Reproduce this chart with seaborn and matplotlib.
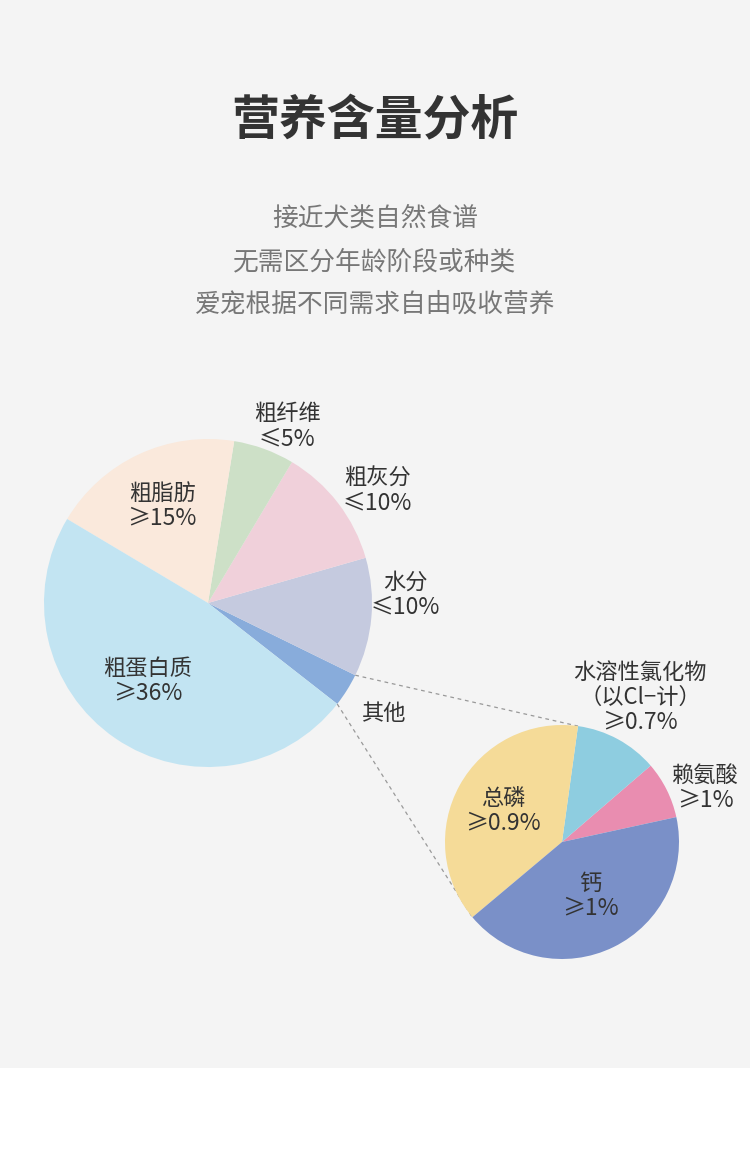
import numpy as np
import matplotlib
matplotlib.use("Agg")
import matplotlib.pyplot as plt
import seaborn as sns
from matplotlib.patches import Rectangle

# main composition (big pie), counter-clockwise starting at "其他"
main_names = ["其他", "水分", "粗灰分", "粗纤维", "粗脂肪", "粗蛋白质"]
main_claims = ["", "≤10%", "≤10%", "≤5%", "≥15%", "≥36%"]
main_values = [3.3, 11.7, 12.0, 6.0, 19.0, 48.0]
main_colors = ["#88acdb", "#c5cadf", "#f0d0da", "#cde0c7", "#fae9dc", "#c2e4f2"]

# breakdown of "其他" (small pie), counter-clockwise starting at 赖氨酸
sub_names = ["赖氨酸", "水溶性氯化物\n（以Cl−计）", "总磷", "钙"]
sub_claims = ["≥1%", "≥0.7%", "≥0.9%", "≥1%"]
sub_values = [7.9, 11.5, 38.3, 42.3]
sub_colors = ["#e98db0", "#8ecde0", "#f5db98", "#7a90c8"]

title = "营养含量分析"
subtitle = ["接近犬类自然食谱", "无需区分年龄阶段或种类", "爱宠根据不同需求自由吸收营养"]

sns.set_theme(style="white")
plt.rcParams["font.family"] = ["Noto Sans CJK SC", "DejaVu Sans"]

W, H = 750, 1156
fig = plt.figure(figsize=(7.5, 11.56), dpi=100, facecolor="white")
ax = fig.add_axes([0, 0, 1, 1])

# pixel helpers (image y downwards)
def py(y):
    return H - y

big_c, big_r = (208, py(603)), 164
small_c, small_r = (562, py(842)), 117

w_big, _ = ax.pie(main_values, colors=sns.color_palette(main_colors), startangle=-38,
                  counterclock=True, center=big_c, radius=big_r,
                  wedgeprops=dict(linewidth=0))
w_small, _ = ax.pie(sub_values, colors=sns.color_palette(sub_colors), startangle=12.3,
                    counterclock=True, center=small_c, radius=small_r,
                    wedgeprops=dict(linewidth=0))

ax.set_xlim(0, W)
ax.set_ylim(0, H)
ax.set_aspect("equal")
ax.axis("off")

ax.add_patch(Rectangle((0, py(1068)), W, 1068, facecolor="#f4f4f4", edgecolor="none", zorder=-5))

# dashed connectors from the "其他" wedge to the small pie
def edge(center, r, ang):
    a = np.deg2rad(ang)
    return center[0] + r * np.cos(a), center[1] + r * np.sin(a)

other = w_big[0]
phos = w_small[2]
for a_big, a_small in [(other.theta2, phos.theta1), (other.theta1, phos.theta2)]:
    x0, y0 = edge(big_c, big_r, a_big)
    x1, y1 = edge(small_c, small_r, a_small)
    ax.plot([x0, x1], [y0, y1], ls=(0, (3, 3)), color="#999999", lw=0.9, zorder=0)

# text
ax.text(375, py(121), title, ha="center", va="center", fontsize=34.5, fontweight="bold", color="#333333")
for i, s in enumerate(subtitle):
    ax.text(375, py(219 + i * 43), s, ha="center", va="center", fontsize=18.5, color="#777777")

# label anchor = centre of the value line (x, y in image pixels)
main_pos = [(383, 738), (405, 607), (377, 503), (287, 439), (162, 518), (148, 693)]
sub_pos = [(705, 800), (640, 722), (503, 823), (590, 908)]
for name, claim, (x, y) in zip(main_names + sub_names, main_claims + sub_claims, main_pos + sub_pos):
    n = name.count("\n") + 1
    ax.text(x, py(y - 12.5 - 12.5 * n), name, ha="center", va="center", fontsize=16,
            color="#333333", linespacing=1.1, multialignment="center")
    if claim:
        ax.text(x, py(y), claim, ha="center", va="center", fontsize=16.5, color="#333333")

fig.savefig("out.png", dpi=100, facecolor="white")
